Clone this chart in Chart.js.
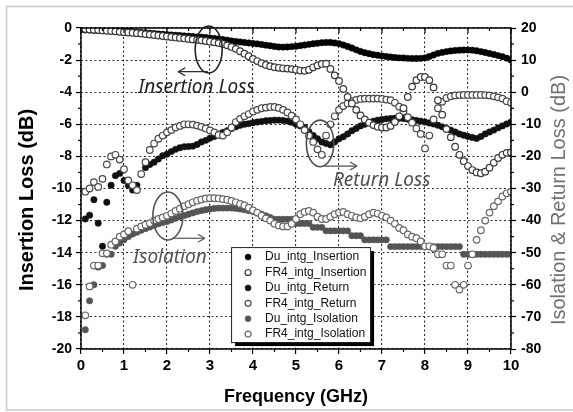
<!DOCTYPE html>
<html>
<head>
<meta charset="utf-8">
<title>Insertion Loss / Return Loss / Isolation</title>
<script src="https://cdn.jsdelivr.net/npm/chart.js@4.4.1/dist/chart.umd.min.js"></script>
<style>
  html, body { margin: 0; padding: 0; background: #fff; }
  canvas { display: block; }
</style>
</head>
<body>
<canvas id="chart" width="573" height="412"></canvas>
<script>
// --- Data ---
const freq = [
  0, 0.1, 0.2, 0.3, 0.4, 0.5, 0.6, 0.7, 0.8, 0.9,
  1, 1.1, 1.2, 1.3, 1.4, 1.5, 1.6, 1.7, 1.8, 1.9,
  2, 2.1, 2.2, 2.3, 2.4, 2.5, 2.6, 2.7, 2.8, 2.9,
  3, 3.1, 3.2, 3.3, 3.4, 3.5, 3.6, 3.7, 3.8, 3.9,
  4, 4.1, 4.2, 4.3, 4.4, 4.5, 4.6, 4.7, 4.8, 4.9,
  5, 5.1, 5.2, 5.3, 5.4, 5.5, 5.6, 5.7, 5.8, 5.9,
  6, 6.1, 6.2, 6.3, 6.4, 6.5, 6.6, 6.7, 6.8, 6.9,
  7, 7.1, 7.2, 7.3, 7.4, 7.5, 7.6, 7.7, 7.8, 7.9,
  8, 8.1, 8.2, 8.3, 8.4, 8.5, 8.6, 8.7, 8.8, 8.9,
  9, 9.1, 9.2, 9.3, 9.4, 9.5, 9.6, 9.7, 9.8, 9.9, 10
];

// Insertion loss, left axis (dB)
const duInsertion = [
  -0.10, -0.12, -0.13, -0.14, -0.15, -0.15, -0.13, -0.10, -0.10, -0.12,
  -0.15, -0.18, -0.22, -0.25, -0.28, -0.30, -0.32, -0.34, -0.37, -0.39,
  -0.41, -0.43, -0.45, -0.47, -0.49, -0.51, -0.53, -0.55, -0.57, -0.59,
  -0.62, -0.65, -0.68, -0.72, -0.76, -0.80, -0.84, -0.87, -0.90, -0.93,
  -0.96, -0.99, -1.03, -1.07, -1.11, -1.15, -1.18, -1.19, -1.18, -1.16,
  -1.14, -1.10, -1.06, -1.02, -0.98, -0.95, -0.92, -0.90, -0.90, -0.93,
  -0.98, -1.06, -1.15, -1.25, -1.36, -1.46, -1.54, -1.60, -1.66, -1.70,
  -1.74, -1.78, -1.81, -1.84, -1.86, -1.87, -1.89, -1.90, -1.90, -1.89,
  -1.86, -1.78, -1.68, -1.58, -1.52, -1.47, -1.43, -1.40, -1.38, -1.37,
  -1.37, -1.38, -1.42, -1.47, -1.53, -1.59, -1.65, -1.72, -1.79, -1.88, -2.00
];
const fr4Insertion = [
  -0.05, -0.07, -0.09, -0.11, -0.13, -0.15, -0.17, -0.19, -0.21, -0.24,
  -0.26, -0.28, -0.30, -0.32, -0.35, -0.38, -0.41, -0.44, -0.47, -0.50,
  -0.53, -0.56, -0.59, -0.62, -0.65, -0.68, -0.71, -0.74, -0.77, -0.81,
  -0.85, -0.89, -0.94, -1.00, -1.08, -1.18, -1.30, -1.45, -1.60, -1.76,
  -1.93, -2.06, -2.19, -2.30, -2.38, -2.44, -2.48, -2.51, -2.53, -2.56,
  -2.60, -2.65, -2.67, -2.60, -2.45, -2.33, -2.24, -2.22, -2.55, -2.95,
  -3.30, -3.80, -4.30, -4.70, -5.10, -5.45, -5.70, -5.90, -6.05, -6.15,
  -6.20, -6.20, -6.10, -5.85, -5.50, -5.00, -4.30, -3.65, -3.25, -3.05,
  -3.05, -3.25, -3.70, -4.50, -5.40, -6.30, -6.80, -7.40, -7.90, -8.30,
  -8.60, -8.85, -9.00, -9.05, -8.95, -8.70, -8.40, -8.10, -7.90, -7.78, -7.75
];

// Return loss, right axis (dB)
const duReturn = [
  null, -39.5, -38.3, -33.5, -40.8, -48.0, -34.3, -29.0, -26.0, -25.3,
  -27.5, -29.0, -30.5, -29.0, -25.5, -23.5, -22.5, -21.8, -20.8, -19.8,
  -19.3, -18.5, -17.8, -17.3, -17.0, -16.9, -16.8, -16.3, -15.5, -15.0,
  -14.3, -13.8, -13.0, -12.5, -12.0, -11.3, -10.8, -10.3, -10.0, -9.8,
  -9.5, -9.3, -9.1, -8.9, -8.8, -8.7, -8.7, -8.8, -9.0, -9.4,
  -10.0, -10.5, -11.0, -12.3, -13.5, -14.5, -15.5, -16.0, -16.4, -15.5,
  -14.5, -13.9, -13.0, -12.0, -11.3, -10.5, -10.0, -9.5, -9.0, -8.7,
  -8.5, -8.3, -8.2, -8.1, -8.1, -8.2, -8.4, -8.6, -8.8, -9.0,
  -9.3, -9.6, -9.9, -10.3, -10.8, -11.3, -11.8, -12.4, -13.0, -13.4,
  -13.8, -14.1, -14.4, -13.8, -13.0, -12.4, -11.8, -11.1, -10.5, -9.9, -9.3
];
const fr4Return = [
  null, -31, -30, -28, -29.5, -27, -22.5, -20, -19.5, -21,
  -24, -27.5, -29, -30.5, -25.5, -21.8, -18, -16, -14.5, -13.5,
  -12.5, -11.8, -11, -10.5, -10, -10, -10.1, -10.4, -10.8, -11.3,
  -11.9, -12.5, -13.3, -13.5, -12.5, -11, -9.3, -8.3, -7.5, -6.8,
  -6, -5.5, -5, -4.8, -4.6, -4.6, -4.9, -5.5, -6.3, -7.3,
  -8.5, -10, -11.8, -13.5, -15.5, -17.8, -19.5, -13.5, -10, -7.5,
  -5.5, -4.3, -3.5, -2.8, -2.4, -2.1, -2, -2, -2, -2,
  -2.1, -2.3, -2.5, -3.3, -4.5, -6, -7.8, -9.5, -11.3, -13,
  -17.5, -13.5, -8.5, -5, -3, -1.8, -1.3, -1, -0.9, -0.85,
  -0.85, -0.85, -0.85, -0.85, -0.9, -1, -1.3, -1.6, -2, -2.8, -3.3
];

// Isolation, right axis (dB)
const duIsolation = [
  null, -74, -65, -60, -54.5, -54, -50.5, -50.5, -48, -47,
  -46, -45, -44.2, -43.6, -43, -42.5, -42, -41.5, -41, -40.6,
  -40.3, -39.8, -39.3, -38.8, -38.4, -38, -37.6, -37.2, -36.9, -36.6,
  -36.4, -36.2, -36.1, -36.1, -36.1, -36.1, -36.2, -36.4, -36.6, -36.9,
  -37.2, -37.6, -38, -38.5, -39, -39.6, -39.6, -39.6, -39.6, -39.6,
  -40.9, -40.9, -40.9, -40.9, -42.1, -42.1, -42.1, -43.2, -43.2, -43.2,
  -43.2, -43.2, -43.2, -44.7, -44.7, -44.7, -46, -46, -46, -46,
  -46, -46, -48.1, -48.1, -48.1, -48.1, -48.1, -48.1, -48.1, -48.1,
  -48.1, -48.1, -48.1, -48.1, -48.1, -48.1, -48.1, -48.1, -48.1, -50.5,
  -50.5, -50.5, -50.5, -50.5, -50.5, -50.5, -50.5, -50.5, -50.5, -50.5, -50.5
];
const fr4Isolation = [
  null, -69.5, -60.5, -54, -54, -50.2, -50.2, -47.5, -46.5, -45,
  -44.3, -43.3, -60, -42.5, -41.8, -41.3, -40.8, -40, -39.5, -39,
  -38.5, -37.8, -37, -36.3, -35.5, -34.9, -34.3, -33.8, -33.4, -33.1,
  -33, -33, -33.1, -33.3, -33.5, -33.9, -34.3, -34.8, -35.3, -36,
  -36.8, -37.5, -38.5, -39.3, -40, -41, -41.5, -41.8, -41.8, -41,
  -39.5, -38, -37.3, -37, -37.5, -38.8, -39.5, -39.5, -38.8, -38,
  -37.5, -37.3, -38, -38.5, -39, -39.3, -38.8, -38, -37.5, -37.8,
  -38.5, -39, -40, -41, -42.3, -43, -44.3, -45, -45.5, -46.5,
  -48, -48, -48.5, -50.5, -50.5, -54, -54, -60, -61.5, -60,
  -54, -50.5, -46, -43, -40, -37.5, -35.5, -34, -32.5, -31.5, -31
];

// Tick labels
const freqTicks = [0, 1, 2, 3, 4, 5, 6, 7, 8, 9, 10];
const lossTicks = [0, -2, -4, -6, -8, -10, -12, -14, -16, -18, -20];
const isoTicks = [20, 10, 0, -10, -20, -30, -40, -50, -60, -70, -80];

const toPoints = values => freq
    .map((f, i) => ({ x: f, y: values[i] }))
    .filter(p => p.y !== null);

const FONT = '"Liberation Sans", Arial, sans-serif';

// --- Callouts (ellipse + arrow + label), placed in left-axis units ---
const callouts = [
    { text: 'Insertion Loss', center: [2.97, -1.34], rx: 13.5, ry: 23.5,
      arrow: [[2.95, -2.72], [2.26, -2.72]], label: [1.33, -3.74], color: '#222' },
    { text: 'Return Loss', center: [5.56, -7.19], rx: 13.7, ry: 23.3,
      arrow: [[5.67, -8.6], [6.42, -8.6]], label: [5.86, -9.53], color: '#4e4e4e' },
    { text: 'Isolation', center: [2.02, -11.71], rx: 15, ry: 24,
      arrow: [[2.14, -13.1], [2.88, -13.1]], label: [1.21, -14.33], color: '#555' }
];

const decorations = {
    id: 'decorations',
    afterDraw(chart) {
        const { ctx, chartArea: area, scales: { x, y, y2 } } = chart;
        const line = (x1, y1, x2, y2p) => {
            ctx.beginPath();
            ctx.moveTo(x1, y1);
            ctx.lineTo(x2, y2p);
            ctx.stroke();
        };
        ctx.save();

        // outer light frame
        ctx.strokeStyle = '#c8c8c8';
        ctx.lineWidth = 1.5;
        ctx.strokeRect(6.5, 6.5, 600, 403.5);

        // plot frame
        ctx.strokeStyle = '#000';
        ctx.lineWidth = 1.5;
        ctx.strokeRect(area.left, area.top, area.right - area.left, area.bottom - area.top);

        // minor ticks + top ticks
        ctx.lineWidth = 1.2;
        for (let v = 0.5; v < 10; v += 1) {
            const px = x.getPixelForValue(v);
            line(px, area.bottom, px, area.bottom + 3);
        }
        for (let v = 0; v <= 10; v += 0.5) {
            const px = x.getPixelForValue(v);
            line(px, area.top, px, area.top + (v % 1 === 0 ? 5 : 3));
        }
        for (let v = -19; v < 0; v += 2) {
            const py = y.getPixelForValue(v);
            line(area.left, py, area.left - 3, py);
        }
        for (let v = 15; v > -80; v -= 10) {
            const py = y2.getPixelForValue(v);
            line(area.right, py, area.right + 3, py);
        }

        // axis titles (vertical, reading upwards)
        ctx.textAlign = 'center';
        ctx.textBaseline = 'middle';
        ctx.save();
        ctx.translate(27, 200);
        ctx.rotate(-Math.PI / 2);
        ctx.fillStyle = '#000';
        ctx.font = 'bold 20px ' + FONT;
        ctx.fillText('Insertion Loss (dB)', 0, 0);
        ctx.restore();
        ctx.save();
        ctx.translate(559, 200);
        ctx.rotate(-Math.PI / 2);
        ctx.fillStyle = '#707070';
        ctx.font = '20px ' + FONT;
        ctx.fillText('Isolation & Return Loss (dB)', 0, 0);
        ctx.restore();

        // callouts
        callouts.forEach(c => {
            ctx.strokeStyle = c.color;
            ctx.fillStyle = c.color;
            ctx.lineWidth = 1.6;
            ctx.beginPath();
            ctx.ellipse(x.getPixelForValue(c.center[0]), y.getPixelForValue(c.center[1]),
                c.rx, c.ry, 0, 0, Math.PI * 2);
            ctx.stroke();
            const [a, b] = c.arrow;
            const ax = x.getPixelForValue(a[0]), ay = y.getPixelForValue(a[1]);
            const bx = x.getPixelForValue(b[0]), by = y.getPixelForValue(b[1]);
            ctx.lineWidth = 1.2;
            line(ax, ay, bx, by);
            const dir = Math.sign(bx - ax);
            line(bx, by, bx - dir * 7, by - 4);
            line(bx, by, bx - dir * 7, by + 4);
            ctx.font = 'italic 19px "Noto Sans", "DejaVu Sans", sans-serif';
            ctx.textAlign = 'left';
            ctx.textBaseline = 'middle';
            ctx.fillText(c.text, x.getPixelForValue(c.label[0]), y.getPixelForValue(c.label[1]));
        });

        // legend box with drop shadow
        const lx = x.getPixelForValue(3.49), ly = y.getPixelForValue(-13.65);
        const lw = 139, lh = 95;
        ctx.fillStyle = '#000';
        ctx.fillRect(lx + 4, ly + 4, lw, lh);
        ctx.fillStyle = '#fff';
        ctx.fillRect(lx, ly, lw, lh);
        ctx.strokeStyle = '#222';
        ctx.lineWidth = 1;
        ctx.strokeRect(lx + 0.5, ly + 0.5, lw, lh);
        ctx.font = '12px ' + FONT;
        ctx.textAlign = 'left';
        ctx.textBaseline = 'middle';
        chart.data.datasets.forEach((ds, i) => {
            const ry = ly + 10 + i * 15.4;
            ctx.beginPath();
            ctx.arc(lx + 17, ry, 3, 0, Math.PI * 2);
            ctx.fillStyle = ds.pointBackgroundColor;
            ctx.fill();
            ctx.strokeStyle = ds.pointBorderColor;
            ctx.lineWidth = ds.pointBorderWidth;
            ctx.stroke();
            ctx.fillStyle = '#111';
            ctx.fillText(ds.label, lx + 34, ry);
        });

        ctx.restore();
    }
};

const filled = color => ({
    pointRadius: 3.2, pointBackgroundColor: color, pointBorderColor: color,
    pointBorderWidth: 0.5, order: 1
});
const open = color => ({
    pointRadius: 3.3, pointBackgroundColor: '#fff', pointBorderColor: color,
    pointBorderWidth: 1.2, order: 0
});

const tickFont = size => ({ family: FONT, size: size, weight: 'bold' });

new Chart(document.getElementById('chart'), {
    type: 'scatter',
    data: {
        datasets: [
            { label: 'Du_intg_Insertion', data: toPoints(duInsertion), yAxisID: 'y', ...filled('#000') },
            { label: 'FR4_intg_Insertion', data: toPoints(fr4Insertion), yAxisID: 'y', ...open('#3a3a3a') },
            { label: 'Du_intg_Return', data: toPoints(duReturn), yAxisID: 'y2', ...filled('#111') },
            { label: 'FR4_intg_Return', data: toPoints(fr4Return), yAxisID: 'y2', ...open('#4a4a4a') },
            { label: 'Du_intg_Isolation', data: toPoints(duIsolation), yAxisID: 'y2', ...filled('#545454') },
            { label: 'FR4_intg_Isolation', data: toPoints(fr4Isolation), yAxisID: 'y2', ...open('#6a6a6a') }
        ]
    },
    options: {
        responsive: false,
        animation: false,
        layout: { padding: { top: 28, left: 0, right: 0, bottom: 0 } },
        plugins: {
            legend: { display: false },
            tooltip: { enabled: false }
        },
        scales: {
            x: {
                type: 'linear', position: 'bottom', min: 0, max: 10,
                afterBuildTicks: s => { s.ticks = freqTicks.map(v => ({ value: v })); },
                afterFit: s => { s.height = 63; },
                ticks: { color: '#000', font: tickFont(15), padding: 3, maxRotation: 0 },
                grid: { color: '#2e2e2e', lineWidth: 1.1, tickLength: 5, tickColor: '#000', tickWidth: 1.2 },
                border: { display: false, dash: [2, 2.5] },
                title: {
                    display: true, text: 'Frequency (GHz)', color: '#000',
                    font: { family: FONT, size: 18, weight: 'bold' },
                    padding: { top: 0, bottom: 4 }
                }
            },
            y: {
                type: 'linear', position: 'left', min: -20, max: 0,
                afterBuildTicks: s => { s.ticks = lossTicks.map(v => ({ value: v })); },
                afterFit: s => { s.width = 81; },
                ticks: { color: '#000', font: tickFont(14), padding: 4 },
                grid: { color: '#2e2e2e', lineWidth: 1.1, tickLength: 5, tickColor: '#000', tickWidth: 1.2 },
                border: { display: false, dash: [2, 2.5] }
            },
            y2: {
                type: 'linear', position: 'right', min: -80, max: 20,
                afterBuildTicks: s => { s.ticks = isoTicks.map(v => ({ value: v })); },
                afterFit: s => { s.width = 62; },
                ticks: { color: '#000', font: tickFont(14), padding: 5 },
                grid: { drawOnChartArea: false, tickLength: 5, tickColor: '#000', tickWidth: 1.2 },
                border: { display: false }
            }
        }
    },
    plugins: [decorations]
});
</script>
</body>
</html>
